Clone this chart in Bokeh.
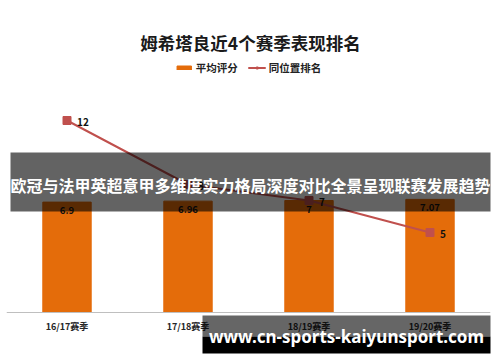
from bokeh.plotting import figure
from bokeh.models import (ColumnDataSource, Range1d, FactorRange, Label,
                          BoxAnnotation, Legend, LegendItem)
from bokeh.core.properties import value
from bokeh.embed import file_html
from bokeh.resources import INLINE

# ---------------- data ----------------
seasons = ["16/17赛季", "17/18赛季", "18/19赛季", "19/20赛季"]
avg_score = [6.9, 6.96, 7.0, 7.07]
score_labels = ["6.9", "6.96", "7", "7.07"]
rank = [12, 8, 7, 5]
rank_labels = ["12", "8", "7", "5"]
title_text = "姆希塔良近4个赛季表现排名"
legend_names = ["平均评分", "同位置排名"]
banner_text = "欧冠与法甲英超意甲多维度实力格局深度对比全景呈现联赛发展趋势"
watermark_text = "www.cn-sports-kaiyunsport.com"

# ---------------- layout ----------------
W, H = 500, 362
FL, FR = 6, 490          # frame left/right in canvas px
BASE = 312               # canvas y of the value 0
PX_PER_UNIT = 16.0
XUNIT = (FR - FL) / len(seasons)

def dx(px):
    return (px - FL) / XUNIT

def dy(py):
    return (BASE - py) / PX_PER_UNIT

ORANGE = "#E46C0A"
RED = "#C0504D"
CJK = "Noto Sans CJK SC"

src = ColumnDataSource(dict(season=seasons, score=avg_score, score_lbl=score_labels,
                            rank=rank, rank_lbl=rank_labels))

p = figure(width=W, height=H,
           x_range=FactorRange(factors=seasons, range_padding=0),
           y_range=Range1d(dy(H), dy(0)),
           output_backend="svg", toolbar_location=None,
           y_axis_location=None,
           min_border_left=FL, min_border_right=W - FR,
           min_border_top=0, min_border_bottom=0)
p.outline_line_color = None
p.xgrid.grid_line_color = None
p.ygrid.grid_line_color = None
p.background_fill_color = "white"
p.border_fill_color = "white"

ax = p.xaxis[0]
ax.fixed_location = 0
ax.axis_line_color = "#BFBFBF"
ax.axis_line_width = 1
ax.major_tick_line_color = None
ax.minor_tick_line_color = None
ax.major_tick_out = 0
ax.major_tick_in = 0
ax.major_label_text_font = CJK
ax.major_label_text_font_size = "9px"
ax.major_label_text_font_style = "bold"
ax.major_label_text_color = "#262626"
ax.major_label_standoff = 7

bars = p.vbar(x="season", top="score", bottom=0, width=0.4, source=src,
              fill_color=ORANGE, line_color=ORANGE)
line = p.line(x="season", y="rank", source=src, line_color=RED, line_width=2)
marks = p.scatter(x="season", y="rank", source=src, marker="square", size=8,
                  fill_color=RED, line_color=RED)

p.text(x="season", y="score", text="score_lbl", source=src,
       text_align="center", text_baseline="top", y_offset=5,
       text_font=value(CJK), text_font_size="9.5px", text_font_style="bold",
       text_color="#111111")
p.text(x="season", y="rank", text="rank_lbl", source=src,
       text_align="left", text_baseline="middle", x_offset=10, y_offset=1,
       text_font=value(CJK), text_font_size="10px", text_font_style="bold",
       text_color="#111111")

legend = Legend(items=[LegendItem(label=legend_names[0], renderers=[bars]),
                       LegendItem(label=legend_names[1], renderers=[line, marks])],
                orientation="horizontal", location="top_center",
                glyph_width=18, glyph_height=5, label_text_font=CJK,
                label_text_font_size="10.5px", label_text_font_style="bold",
                label_text_color="#222222", label_standoff=3, spacing=10,
                padding=0, margin=60, border_line_alpha=0,
                background_fill_alpha=0, label_height=12)
p.add_layout(legend)

p.add_layout(Label(x=dx(250), y=dy(42), text=title_text, text_align="center",
                   text_baseline="middle", text_font=CJK, text_font_size="17.5px",
                   text_font_style="bold", text_color="#1a1a1a"))

# overlay banner
p.add_layout(BoxAnnotation(left=dx(10), right=dx(491), top=dy(152), bottom=dy(211),
                           fill_color="black", fill_alpha=0.61, line_color=None,
                           level="overlay"))
p.add_layout(Label(x=dx(250), y=dy(184), text=banner_text, text_align="center",
                   text_baseline="middle", text_font=CJK, text_font_size="16px",
                   text_font_style="bold", text_color="white", level="overlay"))

# watermark
p.add_layout(BoxAnnotation(left=dx(202), right=dx(491), top=dy(315), bottom=dy(336),
                           fill_color="black", fill_alpha=0.6, line_color=None,
                           level="overlay"))
p.add_layout(BoxAnnotation(left=dx(202), right=dx(491), top=dy(336), bottom=dy(353),
                           fill_color="black", fill_alpha=1.0, line_color=None,
                           level="overlay"))
p.add_layout(Label(x=dx(346), y=dy(336), text=watermark_text, text_align="center",
                   text_baseline="middle", text_font="Noto Sans", text_font_size="17px",
                   text_font_style="bold", text_color="white", level="overlay"))

open("out.html", "w").write(file_html(p, INLINE))
